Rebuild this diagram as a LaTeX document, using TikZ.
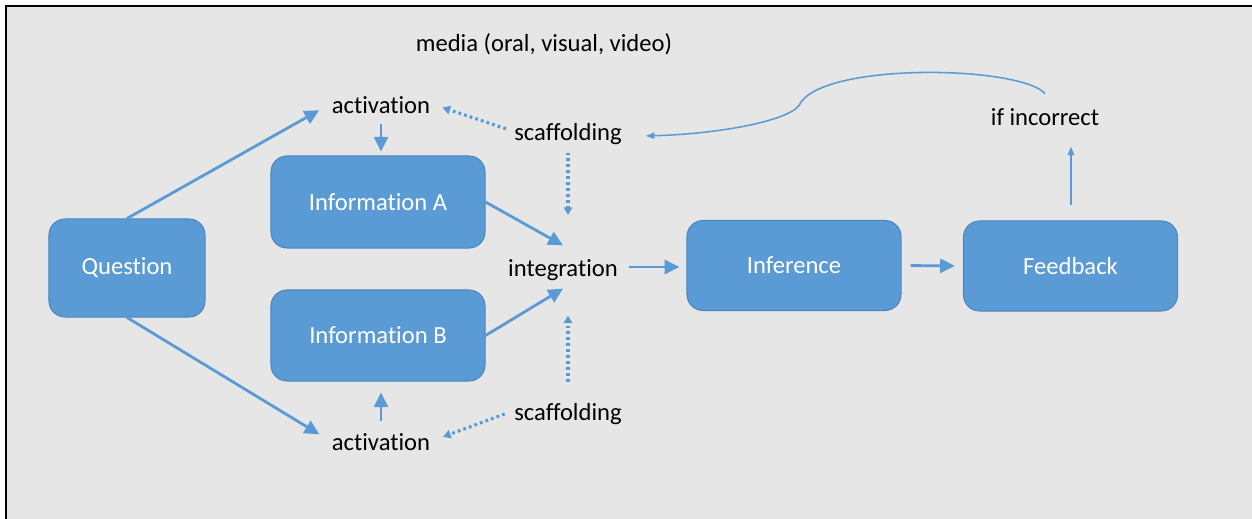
\documentclass[tikz,border=0pt]{standalone}
\usepackage{fontspec}
\setmainfont{Carlito}[Ligatures=NoCommon]
\usetikzlibrary{arrows.meta, positioning}
\definecolor{boxblue}{HTML}{5B9BD5}
\definecolor{boxedge}{HTML}{4C84BC}
\definecolor{bggray}{HTML}{E6E6E6}

\begin{document}
\begin{tikzpicture}[x=0.025cm, y=-0.025cm,
      box/.style={draw=boxedge, fill=boxblue, rounded corners=0.4cm, line width=0.7pt,
                  minimum width=5.35cm, minimum height=2.3cm, align=center,
                  text=white, font=\fontsize{17.5}{21}\selectfont},
      word/.style={inner sep=1pt, text height=14.2pt, text depth=1.3pt,
                   font=\fontsize{17.5}{21}\selectfont},
      arr/.style={-{Triangle[length=10.5pt, width=10pt]}, line width=2pt, boxblue},
      dotarr/.style={-{Triangle[length=5.5pt, width=6pt]}, line width=2.2pt, boxblue,
                     dash pattern=on 2pt off 2.2pt},
      thinarr/.style={-{Triangle[length=6pt, width=4.5pt]}, line width=1.1pt, boxblue}
    ]
    \useasboundingbox (0,0) rectangle (1252,519);
    \fill[bggray] (6,6) rectangle (1252,519);
    \draw[line width=1.4pt] (6,519) -- (6,6) -- (1252,6);

    \node[box, minimum width=3.9cm, minimum height=2.45cm] (question) at (127,268) {Question};
    \node[box] (infoA) at (378,202) {Information A};
    \node[box, minimum height=2.275cm] (infoB) at (378,335.5) {Information B};
    \node[box, minimum height=2.25cm] (inference) at (794,265.5) {Inference};
    \node[box, minimum height=2.25cm] (feedback) at (1070.5,266) {Feedback};

    \node[word] (actA)  at (381,104) {activation};
    \node[word] (actB)  at (381,441) {activation};
    \node[word] (scafA) at (568,131) {scaffolding};
    \node[word] (scafB) at (568,411) {scaffolding};
    \node[word] (integ) at (563,267) {integration};
    \node[word] (media) at (544,42)  {media (oral, visual, video)};
    \node[word] (wrong) at (1045,116) {if incorrect};
    \coordinate (bend) at (801,102);

    \draw[arr, shorten >=9pt] (question.north) -- (actA.west);
    \draw[arr, shorten >=9pt] (question.south) -- (actB.west);
    \draw[arr, shorten <=5.5pt, shorten >=2.8pt] (actA.south) -- (actA.south |- infoA.north);
    \draw[arr, shorten <=5pt, shorten >=7.8pt] (actB.north) -- (actB.north |- infoB.south);
    \draw[arr] (infoA.east) -- ([yshift=6.4pt]integ.north);
    \draw[arr] (infoB.east) -- ([yshift=-6.4pt]integ.south);
    \draw[arr, shorten <=7pt, shorten >=5pt] (integ.east) -- (integ.east -| inference.west);
    \draw[arr, shorten <=6.4pt, shorten >=5.7pt] (inference.east) -- (feedback.west);

    \draw[dotarr, shorten <=6.4pt, shorten >=28pt] (scafA.south) -- (scafA.south |- integ.north);
    \draw[dotarr, shorten <=5pt, shorten >=8pt] (scafA.west) -- (actA.east);
    \draw[dotarr, shorten <=12pt, shorten >=25.5pt] (scafB.north) -- (scafB.north |- integ.south);
    \draw[dotarr, shorten <=6pt, shorten >=8.5pt] (scafB.west) -- (actB.east);

    \draw[thinarr, shorten <=11pt, shorten >=12.8pt] (feedback.north -| 1071,0) -- (wrong.south -| 1071,0);
    \draw[thinarr] ([yshift=7pt]wrong.north) .. controls (1020,66) and (830,62) .. (bend)
      .. controls (796,120) and (720,134) .. ([xshift=16pt, yshift=-3.5pt]scafA.east);
  \end{tikzpicture}
\end{document}
